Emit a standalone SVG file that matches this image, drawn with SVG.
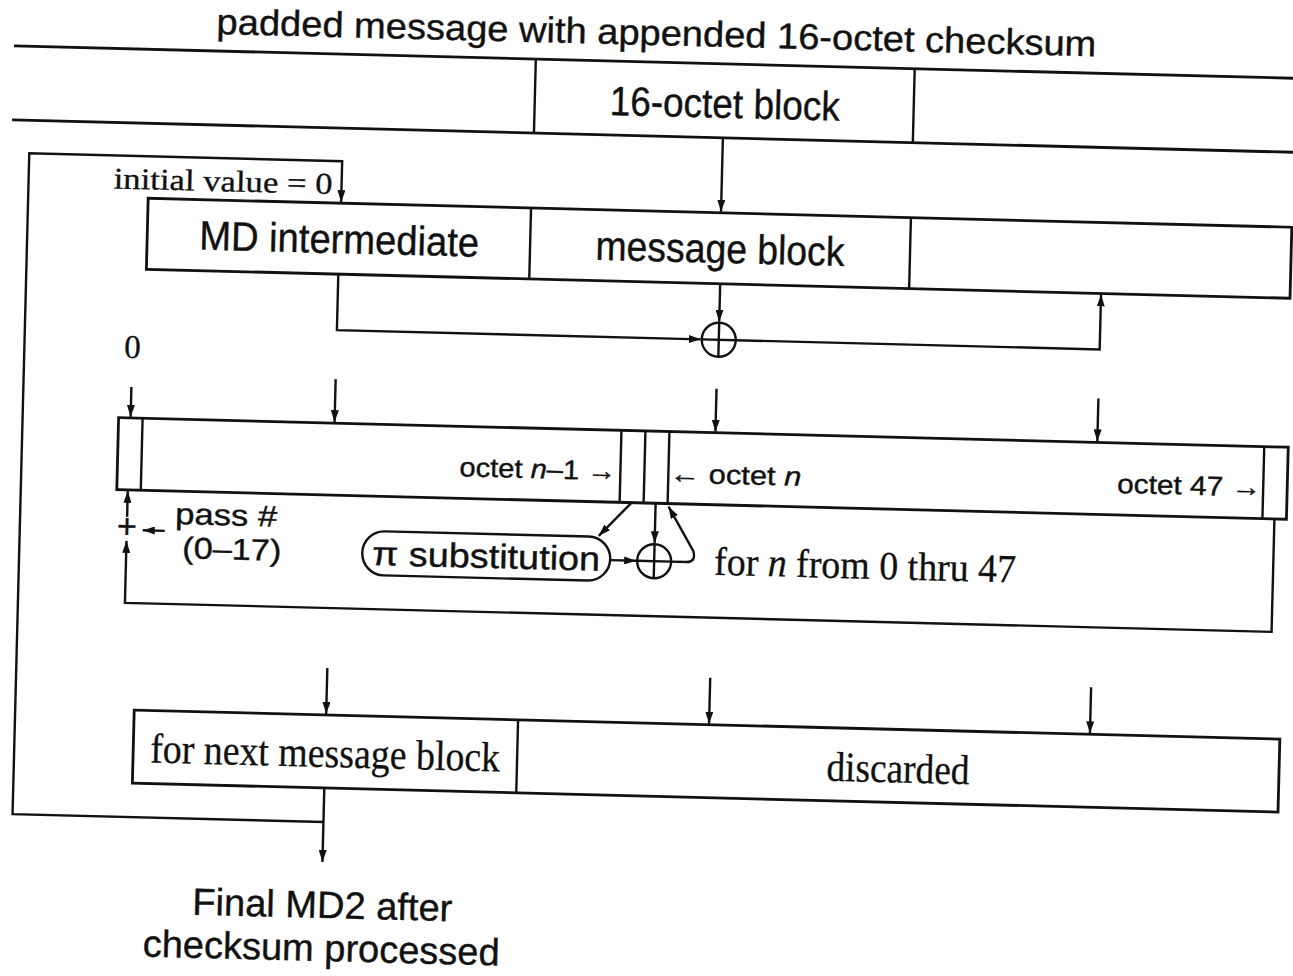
<svg xmlns="http://www.w3.org/2000/svg" width="1293" height="976" viewBox="0 0 1293 976">
<defs>
<marker id="ah" viewBox="0 0 12 8" refX="12" refY="4" markerWidth="12" markerHeight="8" markerUnits="userSpaceOnUse" orient="auto">
<path d="M0,0 L12,4 L0,8 z" fill="#111"/>
</marker>
<style>
.ln{fill:none;stroke:#111;stroke-width:2.4}
.bx{fill:none;stroke:#111;stroke-width:2.8}
.ar{fill:none;stroke:#111;stroke-width:2.4;marker-end:url(#ah)}
.sans{font-family:"Liberation Sans",Arial,Helvetica,sans-serif;fill:#111;stroke:#111;stroke-width:0.4}
.serif{font-family:"Liberation Serif","Times New Roman",serif;fill:#111;stroke:#111;stroke-width:0.3}
.mid{text-anchor:middle}
.end{text-anchor:end}
</style>
</defs>
<rect width="1293" height="976" fill="#fff"/>
<g transform="rotate(1.45 646 488)">
<g id="title">
<text class="sans mid" x="645" y="45" font-size="36" textLength="880" lengthAdjust="spacingAndGlyphs">padded message with appended 16-octet checksum</text>
</g>
<g id="padded-message">
<line class="bx" x1="3" y1="62" x2="1340" y2="62"/>
<line class="bx" x1="3" y1="136" x2="1340" y2="136"/>
<line class="ln" x1="525" y1="62" x2="525" y2="136"/>
<line class="ln" x1="904" y1="62" x2="904" y2="136"/>
<text class="sans mid" x="715" y="116" font-size="41" textLength="230" lengthAdjust="spacingAndGlyphs">16-octet block</text>
</g>
<g id="initial-value">
<text class="serif end" x="325" y="202" font-size="30" textLength="219" lengthAdjust="spacingAndGlyphs">initial value = 0</text>
</g>
<g id="md-row">
<rect class="bx" x="141" y="211" width="1144" height="71"/>
<line class="ln" x1="524" y1="211" x2="524" y2="282"/>
<line class="ln" x1="904" y1="211" x2="904" y2="282"/>
<text class="sans mid" x="333" y="261" font-size="41" textLength="280" lengthAdjust="spacingAndGlyphs">MD intermediate</text>
<text class="sans mid" x="714" y="261" font-size="41" textLength="249" lengthAdjust="spacingAndGlyphs">message block</text>
</g>
<g id="xor1">
<circle class="ln" cx="715" cy="338" r="17"/>
<line class="ln" x1="698" y1="338" x2="732" y2="338"/>
<line class="ln" x1="715" y1="321" x2="715" y2="355"/>
</g>
<g id="zero-label">
<text class="serif mid" x="129" y="371" font-size="33">0</text>
</g>
<g id="octet-bar">
<rect class="bx" x="117" y="431" width="1170" height="72"/>
<line class="ln" x1="141" y1="431" x2="141" y2="503"/>
<line class="ln" x1="620" y1="431" x2="620" y2="503"/>
<line class="ln" x1="644" y1="431" x2="644" y2="503"/>
<line class="ln" x1="668" y1="431" x2="668" y2="503"/>
<line class="ln" x1="1263" y1="431" x2="1263" y2="503"/>
<text class="sans end" x="616" y="481" font-size="27" textLength="157" lengthAdjust="spacingAndGlyphs">octet <tspan font-style="italic">n</tspan>–1 →</text>
<text class="sans" x="669" y="482" font-size="27" textLength="132" lengthAdjust="spacingAndGlyphs">← octet <tspan font-style="italic">n</tspan></text>
<text class="sans end" x="1261" y="481" font-size="27" textLength="144" lengthAdjust="spacingAndGlyphs">octet 47 →</text>
</g>
<g id="adder">
<text class="sans mid" x="128" y="551" font-size="34">+</text>
</g>
<g id="pass-label">
<text class="sans" x="176" y="536" font-size="30" textLength="102" lengthAdjust="spacingAndGlyphs">pass #</text>
<text class="sans" x="184" y="570" font-size="30" textLength="99" lengthAdjust="spacingAndGlyphs">(0–17)</text>
</g>
<g id="pi-substitution">
<rect class="ln" x="364" y="538" width="248" height="44" rx="22"/>
<text class="sans mid" x="488" y="572" font-size="34" textLength="228" lengthAdjust="spacingAndGlyphs">π substitution</text>
</g>
<g id="xor2">
<circle class="ln" cx="656" cy="561" r="17"/>
<line class="ln" x1="639" y1="561" x2="673" y2="561"/>
<line class="ln" x1="656" y1="544" x2="656" y2="578"/>
</g>
<g id="loop-label">
<text class="serif" x="716" y="573" font-size="40" textLength="302" lengthAdjust="spacingAndGlyphs">for <tspan font-style="italic">n</tspan> from 0 thru 47</text>
</g>
<g id="final-bar">
<rect class="bx" x="140" y="723" width="1146" height="73"/>
<line class="ln" x1="524" y1="723" x2="524" y2="796"/>
<text class="serif mid" x="332" y="775" font-size="42" textLength="350" lengthAdjust="spacingAndGlyphs">for next message block</text>
<text class="serif mid" x="905" y="776" font-size="42" textLength="143" lengthAdjust="spacingAndGlyphs">discarded</text>
</g>
<g id="final-output">
<text class="sans mid" x="333" y="926" font-size="38" textLength="260" lengthAdjust="spacingAndGlyphs">Final MD2 after</text>
<text class="sans mid" x="333" y="969" font-size="38" textLength="357" lengthAdjust="spacingAndGlyphs">checksum processed</text>
</g>
<g id="connectors">
<line class="ar" x1="714" y1="136" x2="714" y2="210"/>
<path class="ar" d="M332,830 L21,830 L21,169 L334,169 L334,210"/>
<line class="ar" x1="715" y1="282" x2="715" y2="320"/>
<path class="ar" d="M333,282 L333,338 L697,338"/>
<path class="ar" d="M732,338 L1096,338 L1096,283"/>
<line class="ar" x1="129" y1="400" x2="129" y2="430"/>
<line class="ar" x1="333" y1="387" x2="333" y2="430"/>
<line class="ar" x1="714" y1="387" x2="714" y2="430"/>
<line class="ar" x1="1096" y1="387" x2="1096" y2="430"/>
<line class="ar" x1="128" y1="530" x2="128" y2="504"/>
<path class="ar" d="M1275,503 L1275,616 L128,616 L128,554"/>
<line class="ar" x1="166" y1="543" x2="144" y2="543"/>
<line class="ar" x1="632" y1="503" x2="600" y2="537"/>
<line class="ar" x1="656" y1="503" x2="656" y2="543"/>
<line class="ar" x1="612" y1="561" x2="638" y2="561"/>
<path class="ar" d="M673,561 L688,561 Q698,561 695,550 L669,506"/>
<line class="ar" x1="332" y1="676" x2="332" y2="722"/>
<line class="ar" x1="715" y1="676" x2="715" y2="722"/>
<line class="ar" x1="1096" y1="676" x2="1096" y2="722"/>
<line class="ar" x1="332" y1="796" x2="332" y2="870"/>
</g>
</g>
</svg>
